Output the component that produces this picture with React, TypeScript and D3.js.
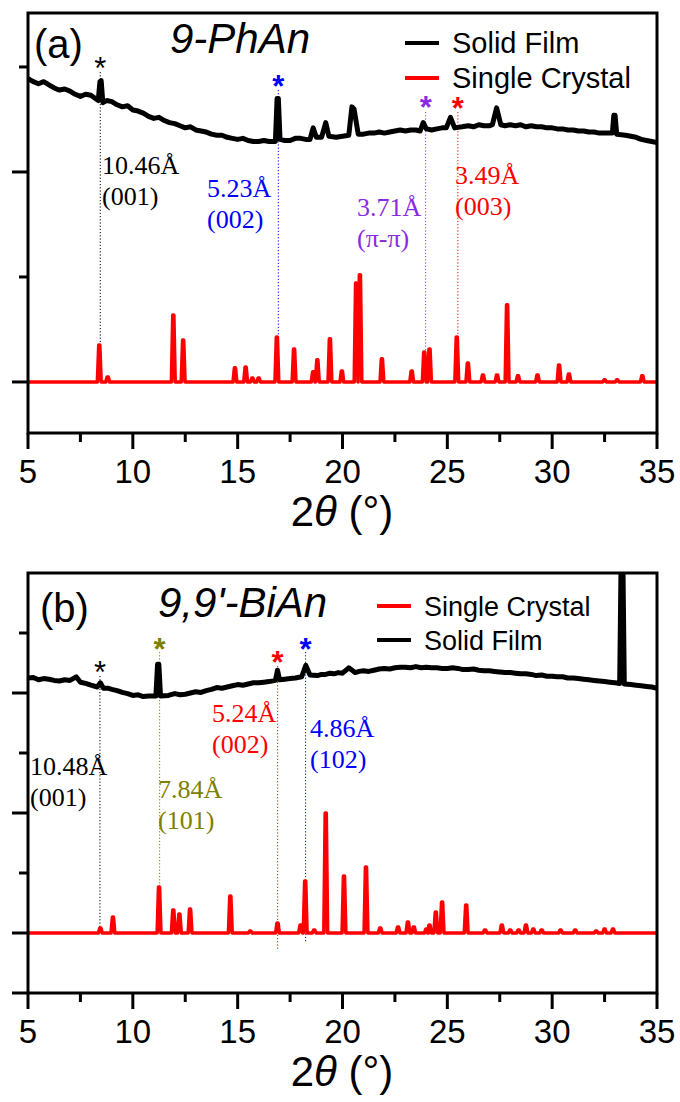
import React from "react";
import * as d3 from "d3";

const W = 680;
const H = 1102;
const LAMBDA = 1.5406; // Cu Kα wavelength, Å

// ---- shared x axis ----
const X_DOMAIN: [number, number] = [5, 35];
const xMajorTicks = [5, 10, 15, 20, 25, 30, 35];
const xMinorTicks = [7.5, 12.5, 17.5, 22.5, 27.5, 32.5];

// ---- (a) 9-PhAn ----
// simulated single-crystal pattern: [2θ, intensity]
const phAnCrystalPeaks: [number, number][] = [
  [8.4, 17.6], [8.8, 2.4], [11.93, 31.9], [12.4, 20], [14.87, 6.7], [15.38, 7.1],
  [15.7, 1.9], [16.0, 1.9], [16.87, 21.4], [17.69, 15.7], [18.6, 4.8], [18.8, 10.5],
  [19.4, 20.5], [19.97, 5.2], [20.65, 47.1], [20.83, 51], [21.88, 11], [23.3, 5.2],
  [23.9, 14.3], [24.15, 15.7], [25.45, 21.4], [25.98, 9], [26.7, 3.3], [27.37, 3.3],
  [27.85, 36.7], [28.37, 2.9], [29.3, 3.3], [30.33, 8.1], [30.8, 3.8], [32.5, 1],
  [33.1, 1], [34.3, 2.9],
];
// measured solid-film pattern: [2θ, intensity]
const phAnFilm: [number, number][] = [
  [5, 144.5], [5.25, 143], [5.5, 142], [5.75, 143], [6, 141.5], [6.25, 140], [6.5, 139],
  [6.75, 139.5], [7, 138.5], [7.25, 137], [7.5, 136], [7.75, 137], [8, 136.5], [8.35, 134],
  [8.43, 143], [8.49, 143.5], [8.57, 133], [8.75, 134], [9, 133.5], [9.25, 132], [9.5, 131],
  [9.75, 131.5], [10, 129.5], [10.25, 129], [10.5, 128], [10.75, 126.5], [11, 125.5],
  [11.25, 126], [11.5, 124.5], [11.75, 123.5], [12, 123], [12.25, 122], [12.5, 121],
  [12.75, 121.5], [13, 120], [13.25, 119.5], [13.5, 119], [13.75, 118], [14, 117.5],
  [14.25, 117.5], [14.5, 116.5], [14.75, 116], [15, 115.5], [15.25, 116], [15.5, 115],
  [15.75, 114.5], [16, 114.5], [16.25, 115], [16.5, 114.5], [16.8, 114.5], [16.88, 135],
  [16.94, 135], [17.02, 115.5], [17.25, 115], [17.5, 115], [17.75, 116], [18, 116],
  [18.25, 115.5], [18.45, 115.5], [18.6, 121], [18.75, 116.5], [19.0, 116.5], [19.2, 123.5],
  [19.35, 117], [19.7, 116.5], [20, 117], [20.3, 117.5], [20.45, 131], [20.55, 130],
  [20.75, 118], [21, 118], [21.25, 118.5], [21.5, 118.5], [21.75, 119], [22, 118.5],
  [22.25, 119], [22.5, 119.5], [22.75, 120], [23, 119.5], [23.25, 120], [23.5, 120],
  [23.7, 119.5], [23.85, 123.5], [24, 120.5], [24.25, 120], [24.5, 120.5], [24.75, 121],
  [24.95, 121], [25.15, 126], [25.35, 121], [25.7, 121.5], [26, 122], [26.25, 121.5],
  [26.5, 122.5], [26.75, 122], [27, 122], [27.15, 122.5], [27.35, 130.5], [27.55, 122.5],
  [27.75, 122], [28, 122.5], [28.25, 122], [28.5, 122.5], [28.75, 121.5], [29, 122],
  [29.25, 121.5], [29.5, 121.5], [29.75, 121], [30, 121], [30.25, 120.5], [30.5, 120.5],
  [30.75, 120], [31, 120], [31.25, 119.5], [31.5, 119.5], [31.75, 119], [32, 119],
  [32.25, 118.5], [32.5, 118.5], [32.87, 118.5], [32.94, 127], [33.0, 127], [33.08, 118],
  [33.5, 117.5], [33.75, 117], [34, 116.5], [34.25, 115.5], [34.5, 115], [34.75, 114.5],
  [35, 114],
];
// indexed reflections
const phAnSpacings = [10.46, 5.23, 3.71, 3.49];
const phAnIndices = ["(001)", "(002)", "(π-π)", "(003)"];

// ---- (b) 9,9'-BiAn ----
const biAnCrystalPeaks: [number, number][] = [
  [8.45, 4.2], [9.05, 13.3], [11.25, 38.3], [11.93, 19.2], [12.22, 15.8], [12.73, 20],
  [14.65, 30.8], [15.6, 1.7], [16.9, 8.3], [18.0, 6.7], [18.22, 43.3], [18.65, 2.5],
  [19.2, 100], [20.07, 47.5], [21.12, 55], [21.8, 4.2], [22.65, 5], [23.12, 9.2],
  [23.4, 5], [24.0, 3.3], [24.15, 6.7], [24.45, 17.5], [24.75, 25.8], [25.9, 23.3],
  [26.8, 2.5], [27.6, 6.7], [28.0, 2.5], [28.4, 2.5], [28.75, 6.7], [29.1, 3.3],
  [29.5, 2.5], [30.4, 2.5], [31.1, 2.5], [32.1, 1.7], [32.5, 3.3], [32.9, 3.3],
];
const biAnFilm: [number, number][] = [
  [5, 212.5], [5.25, 213], [5.5, 211], [5.75, 212], [6, 211.5], [6.25, 210.5], [6.5, 210],
  [6.75, 211], [7, 210.5], [7.3, 213.5], [7.5, 209], [7.75, 208], [8, 206.5], [8.3, 205],
  [8.45, 208.5], [8.6, 204], [8.8, 204], [9, 203], [9.25, 202], [9.5, 200.5], [9.75, 199.5],
  [10, 198], [10.25, 198.5], [10.5, 197], [10.75, 197.5], [11.1, 197.5], [11.18, 224],
  [11.24, 224], [11.32, 197.5], [11.7, 198], [12, 199.5], [12.25, 198.5], [12.5, 199],
  [12.75, 200], [13, 201], [13.25, 200.5], [13.5, 202], [13.75, 203], [14, 204.5],
  [14.25, 204], [14.5, 205], [14.75, 206], [15, 207], [15.25, 206.5], [15.5, 207.5],
  [15.75, 208.5], [16, 208.5], [16.25, 209], [16.5, 209.5], [16.8, 210.5], [16.9, 219],
  [17.0, 211], [17.25, 211.5], [17.5, 212], [17.75, 212.5], [18.05, 213.5], [18.25, 223],
  [18.45, 215], [18.8, 214.5], [19.0, 215.5], [19.2, 215.5], [19.4, 216.5], [19.6, 216],
  [19.8, 217], [20, 216.5], [20.3, 221], [20.6, 217], [20.8, 218], [21, 218.5],
  [21.25, 218], [21.5, 219], [21.75, 220], [22, 220.5], [22.25, 220], [22.5, 221],
  [22.75, 221.5], [23, 221.5], [23.25, 221], [23.5, 222], [23.75, 221], [24, 221.5],
  [24.25, 221], [24.5, 221], [24.75, 220.5], [25, 220.5], [25.25, 221], [25.5, 220.5],
  [25.75, 219.5], [26, 219.5], [26.25, 220], [26.5, 219], [26.75, 218.5], [27, 218.5],
  [27.25, 218], [27.5, 217.5], [27.75, 217], [28, 217], [28.25, 216.5], [28.5, 216],
  [28.75, 216], [29, 215.5], [29.25, 214.5], [29.5, 215], [29.75, 214], [30, 214],
  [30.25, 213.5], [30.5, 213.5], [30.75, 212.5], [31, 212.5], [31.25, 212], [31.5, 211.5],
  [31.75, 211], [32, 210.5], [32.25, 210], [32.5, 209.5], [32.75, 209], [33, 208.5],
  [33.22, 208], [33.3, 330], [33.36, 330], [33.44, 207.5], [33.75, 207], [34, 206.5],
  [34.25, 206], [34.5, 205.5], [34.75, 205], [35, 204],
];
const biAnSpacings = [10.48, 7.84, 5.24, 4.86];
const biAnIndices = ["(001)", "(101)", "(002)", "(102)"];

const braggTwoTheta = (d: number) => (2 * Math.asin(LAMBDA / (2 * d)) * 180) / Math.PI;

// narrow stick profile drawn for each simulated reflection
function stickProfile(peaks: [number, number][]): [number, number][] {
  const sorted = [...peaks].sort((a, b) => a[0] - b[0]);
  const pts: [number, number][] = [[X_DOMAIN[0], 0]];
  for (const [p, h] of sorted) {
    pts.push([p - 0.09, 0], [p - 0.025, h], [p + 0.025, h], [p + 0.09, 0]);
  }
  pts.push([X_DOMAIN[1], 0]);
  return pts;
}

const SANS = "'Liberation Sans', Arial, sans-serif";
const SERIF = "'Liberation Serif', 'Times New Roman', serif";

type Mark = {
  color: string;
  starY: number; // px
  lineTop: number; // px
  lineEnd: number; // data units
  textX: number;
  textY: number;
};

type LegendItem = { label: string; color: string };

type PanelProps = {
  id: string;
  top: number;
  bottom: number;
  yDomain: [number, number];
  yMajor: number[];
  yMinor: number[];
  crystal: [number, number][];
  film: [number, number][];
  spacings: number[];
  indices: string[];
  marks: Mark[];
  tag: string;
  tagX: number;
  tagY: number;
  name: string;
  nameX: number;
  nameY: number;
  legend: LegendItem[];
  legendX: number;
  legendY: number;
  legendGap: number;
  legendSize: number;
};

const LEFT = 28;
const RIGHT = 657;

function Panel(p: PanelProps) {
  const x = d3.scaleLinear().domain(X_DOMAIN).range([LEFT, RIGHT]);
  const y = d3.scaleLinear().domain(p.yDomain).range([p.bottom, p.top]);
  const line = d3
    .line<[number, number]>()
    .x((d) => x(d[0]))
    .y((d) => y(d[1]));

  const clipId = `clip-${p.id}`;
  return (
    <g>
      <defs>
        <clipPath id={clipId}>
          <rect x={LEFT} y={p.top} width={RIGHT - LEFT} height={p.bottom - p.top} />
        </clipPath>
      </defs>

      {/* reference lines for indexed reflections */}
      {p.spacings.map((d, i) => {
        const m = p.marks[i];
        const xx = x(braggTwoTheta(d));
        return (
          <g key={`m${i}`}>
            <line
              x1={xx}
              x2={xx}
              y1={m.lineTop}
              y2={y(m.lineEnd)}
              stroke={m.color}
              strokeWidth={1}
              strokeDasharray="1.2,2"
            />
            <text
              x={xx}
              y={m.starY + 17}
              fill={m.color}
              fontFamily={SANS}
              fontSize={31}
              fontWeight={i === 0 ? 400 : 700}
              textAnchor="middle"
            >
              *
            </text>
            <text x={m.textX} y={m.textY} fill={m.color} fontFamily={SERIF} fontSize={26}>
              {`${d.toFixed(2)}Å`}
            </text>
            <text x={m.textX} y={m.textY + 31} fill={m.color} fontFamily={SERIF} fontSize={26}>
              {p.indices[i]}
            </text>
          </g>
        );
      })}

      <g clipPath={`url(#${clipId})`}>
        <path
          d={line(stickProfile(p.crystal)) || ""}
          fill="none"
          stroke="#ff0000"
          strokeWidth={3.6}
          strokeLinejoin="round"
        />
        <path
          d={line(p.film) || ""}
          fill="none"
          stroke="#000"
          strokeWidth={5}
          strokeLinejoin="round"
        />
      </g>

      {/* frame */}
      <rect
        x={LEFT}
        y={p.top}
        width={RIGHT - LEFT}
        height={p.bottom - p.top}
        fill="none"
        stroke="#000"
        strokeWidth={3}
      />

      {/* x ticks */}
      {xMajorTicks.map((t) => (
        <g key={`xM${t}`}>
          <line x1={x(t)} x2={x(t)} y1={p.bottom} y2={p.bottom + 16} stroke="#000" strokeWidth={3} />
          <text
            x={x(t)}
            y={p.bottom + 50}
            fontFamily={SANS}
            fontSize={33}
            textAnchor="middle"
            fill="#000"
          >
            {t}
          </text>
        </g>
      ))}
      {xMinorTicks.map((t) => (
        <line key={`xm${t}`} x1={x(t)} x2={x(t)} y1={p.bottom} y2={p.bottom + 9} stroke="#000" strokeWidth={3} />
      ))}

      {/* y ticks (no labels) */}
      {p.yMajor.map((t) => (
        <line key={`yM${t}`} x1={LEFT - 16} x2={LEFT} y1={y(t)} y2={y(t)} stroke="#000" strokeWidth={3} />
      ))}
      {p.yMinor.map((t) => (
        <line key={`ym${t}`} x1={LEFT - 9} x2={LEFT} y1={y(t)} y2={y(t)} stroke="#000" strokeWidth={3} />
      ))}

      {/* axis title */}
      <text x={342} y={p.bottom + 93} fontFamily={SANS} fontSize={42} textAnchor="middle" fill="#000">
        <tspan>2</tspan>
        <tspan fontStyle="italic">θ</tspan>
        <tspan> (°)</tspan>
      </text>

      {/* panel tag and compound name */}
      <text x={p.tagX} y={p.tagY} fontFamily={SANS} fontSize={40} fill="#000">
        {p.tag}
      </text>
      <text x={p.nameX} y={p.nameY} fontFamily={SANS} fontSize={42} fontStyle="italic" fill="#000">
        {p.name}
      </text>

      {/* legend */}
      {p.legend.map((item, i) => {
        const ly = p.legendY + i * p.legendGap;
        return (
          <g key={item.label}>
            <line
              x1={p.legendX}
              x2={p.legendX + 34}
              y1={ly}
              y2={ly}
              stroke={item.color}
              strokeWidth={4}
            />
            <text
              x={p.legendX + 47}
              y={ly + 10}
              fontFamily={SANS}
              fontSize={p.legendSize}
              fill="#000"
            >
              {item.label}
            </text>
          </g>
        );
      })}
    </g>
  );
}

export default function App() {
  const phAnMarks: Mark[] = [
    { color: "#000000", starY: 62, lineTop: 72, lineEnd: 17.6, textX: 102, textY: 174 },
    { color: "#0000ff", starY: 80, lineTop: 90, lineEnd: 21.4, textX: 207, textY: 197 },
    { color: "#8a2be2", starY: 101, lineTop: 112, lineEnd: 14.3, textX: 357, textY: 216 },
    { color: "#ff0000", starY: 102, lineTop: 112, lineEnd: 21.4, textX: 455, textY: 184 },
  ];
  const biAnMarks: Mark[] = [
    { color: "#000000", starY: 666, lineTop: 676, lineEnd: 0, textX: 30, textY: 775 },
    { color: "#808000", starY: 643, lineTop: 652, lineEnd: 38.3, textX: 158, textY: 798 },
    { color: "#ff0000", starY: 656, lineTop: 666, lineEnd: -14, textX: 212, textY: 722 },
    { color: "#0000ff", starY: 643, lineTop: 652, lineEnd: -8.3, textX: 310, textY: 737 },
  ];

  return (
    <div style={{ position: "absolute", left: 0, top: 0 }}>
      <svg width={W} height={H} viewBox={`0 0 ${W} ${H}`} style={{ display: "block", background: "#fff" }}>
        <Panel
          id="a"
          top={13}
          bottom={433}
          yDomain={[-24.3, 175.7]}
          yMajor={[0, 100]}
          yMinor={[50, 150]}
          crystal={phAnCrystalPeaks}
          film={phAnFilm}
          spacings={phAnSpacings}
          indices={phAnIndices}
          marks={phAnMarks}
          tag="(a)"
          tagX={34}
          tagY={58}
          name="9-PhAn"
          nameX={170}
          nameY={53}
          legend={[
            { label: "Solid Film", color: "#000" },
            { label: "Single Crystal", color: "#ff0000" },
          ]}
          legendX={405}
          legendY={43}
          legendGap={35}
          legendSize={29}
        />
        <Panel
          id="b"
          top={573}
          bottom={993}
          yDomain={[-50, 300]}
          yMajor={[-50, 0, 100, 200]}
          yMinor={[50, 150, 250]}
          crystal={biAnCrystalPeaks}
          film={biAnFilm}
          spacings={biAnSpacings}
          indices={biAnIndices}
          marks={biAnMarks}
          tag="(b)"
          tagX={40}
          tagY={622}
          name="9,9'-BiAn"
          nameX={158}
          nameY={617}
          legend={[
            { label: "Single Crystal", color: "#ff0000" },
            { label: "Solid Film", color: "#000" },
          ]}
          legendX={377}
          legendY={606}
          legendGap={34}
          legendSize={27}
        />
      </svg>
    </div>
  );
}
